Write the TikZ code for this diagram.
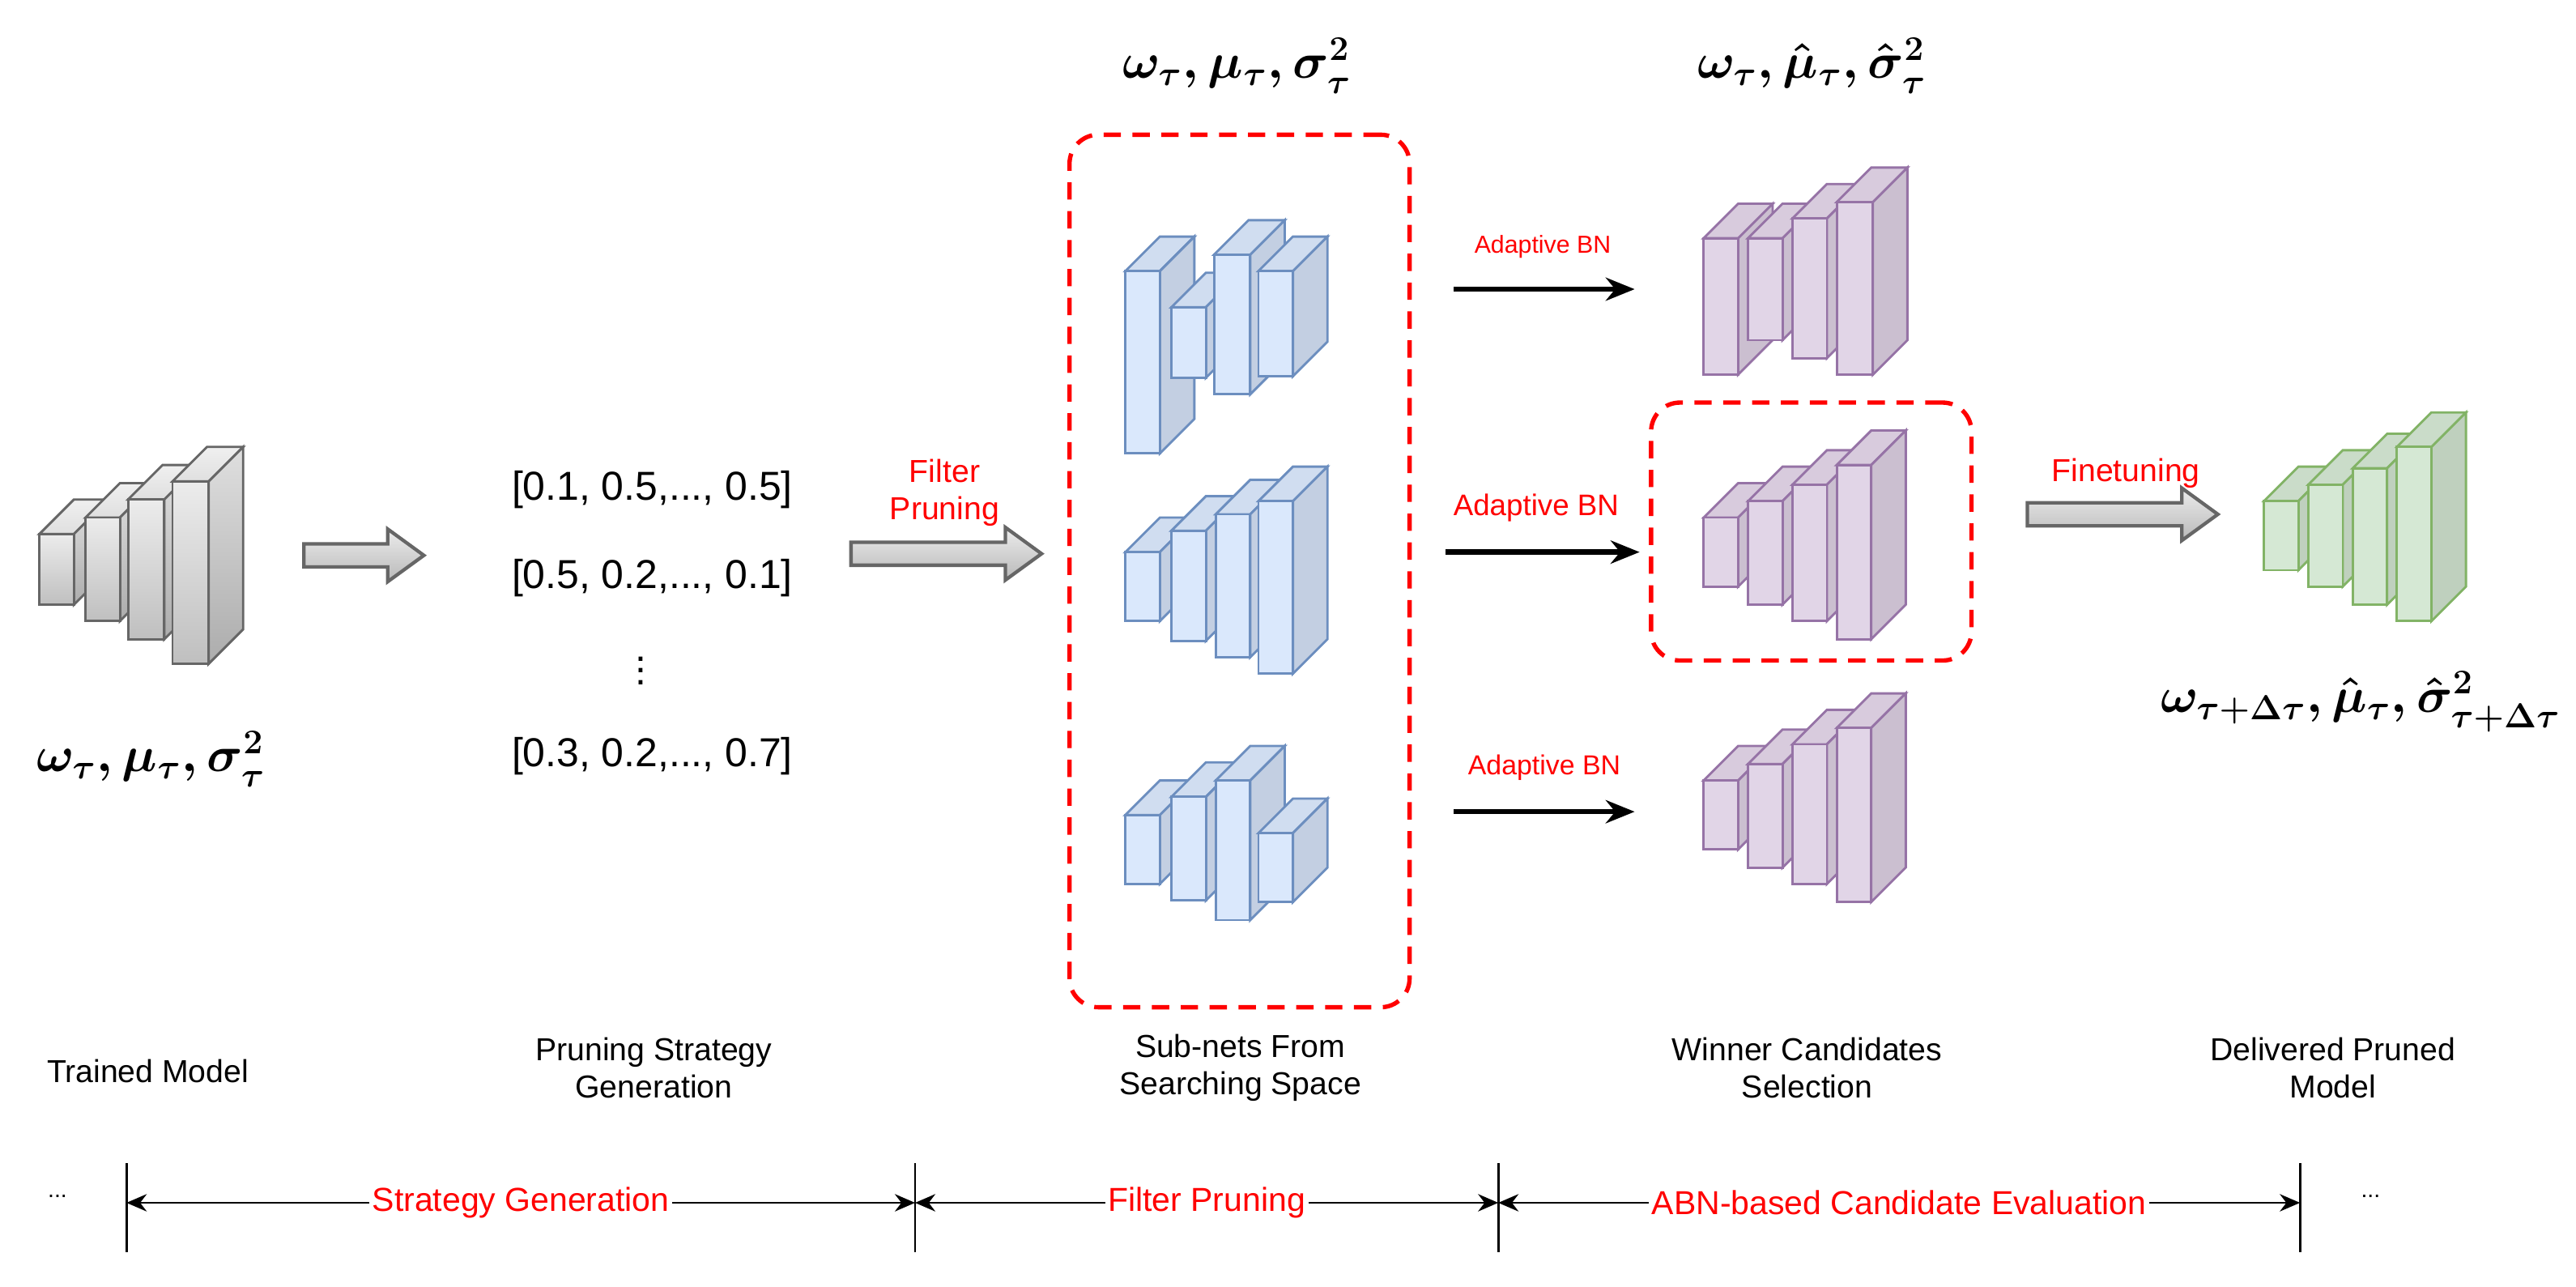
\documentclass[tikz,border=0pt]{standalone}
\usepackage{fontspec}
\setmainfont{Liberation Sans}
\usepackage{amsmath}
\usetikzlibrary{arrows.meta}
\definecolor{bfr}{HTML}{DAE8FC}\definecolor{bsd}{HTML}{C3CFE2}\definecolor{btp}{HTML}{D0DDF0}\definecolor{bst}{HTML}{6C8EBF}
\definecolor{pfr}{HTML}{E1D5E7}\definecolor{psd}{HTML}{CBBFD0}\definecolor{ptp}{HTML}{D8CBDD}\definecolor{pst}{HTML}{9673A6}
\definecolor{gfr}{HTML}{D5E8D4}\definecolor{gsd}{HTML}{BFD0BE}\definecolor{gtp}{HTML}{CADCC9}\definecolor{gst}{HTML}{82B366}
\definecolor{kst}{HTML}{666666}
\newcommand\mycub[5]{% style x y w h
 \begin{scope}[#1]
 \path[cubtop] (#2,#3)--++(21,-21)--++(#4,0)--++(-21,21)--cycle;
 \path[cubside] (#2+#4,#3)--++(21,-21)--++(0,#5)--++(-21,21)--cycle;
 \path[cubfront] (#2,#3) rectangle ++(#4,#5);
 \end{scope}}
\newcommand\blockarrow[4]{% name x0 x1 y
 \coordinate (#1) at (#2,#4);
 \draw[kst,line width=1.2pt,top color=gray!15,bottom color=gray!55] (#2,#4-7)--(#3-22,#4-7)--(#3-22,#4-16)--(#3,#4)--(#3-22,#4+16)--(#3-22,#4+7)--(#2,#4+7)--cycle;}
\tikzset{
 gray/.style={cubtop/.style={draw=kst,line width=0.8pt,top color=gray!12,bottom color=gray!25},
   cubside/.style={draw=kst,line width=0.8pt,top color=gray!25,bottom color=gray!65},
   cubfront/.style={draw=kst,line width=0.8pt,top color=gray!15,bottom color=gray!50}},
 blue/.style={cubtop/.style={draw=bst,line width=0.8pt,fill=btp},cubside/.style={draw=bst,line width=0.8pt,fill=bsd},cubfront/.style={draw=bst,line width=0.8pt,fill=bfr}},
 purp/.style={cubtop/.style={draw=pst,line width=0.8pt,fill=ptp},cubside/.style={draw=pst,line width=0.8pt,fill=psd},cubfront/.style={draw=pst,line width=0.8pt,fill=pfr}},
 green/.style={cubtop/.style={draw=gst,line width=0.8pt,fill=gtp},cubside/.style={draw=gst,line width=0.8pt,fill=gsd},cubfront/.style={draw=gst,line width=0.8pt,fill=gfr}},
 red/.style={text=red,font=\fontsize{10.3}{12}\selectfont,align=center},
 capt/.style={font=\fontsize{11}{13}\selectfont,align=center},
 vec/.style={font=\fontsize{14}{16}\selectfont},
 mth/.style={font=\fontsize{17}{19}\selectfont},
 dbox/.style={draw=red,line width=1.5pt,dash pattern=on 6pt off 4pt,rounded corners=10pt},
 barr/.style={-{Stealth[length=10pt,width=8pt]},line width=1.8pt},
 dim/.style={{Stealth[length=7pt,width=6pt]}-{Stealth[length=7pt,width=6pt]},line width=0.8pt},
 tick/.style={line width=0.8pt}
}
\begin{document}
\begin{tikzpicture}[x=0.02cm,y=-0.02cm]
\path[use as bounding box] (0,0) rectangle (1568,783);
% gray model
\mycub{gray}{24}{325}{21}{43}\mycub{gray}{52}{315}{21}{63}\mycub{gray}{78}{304}{22}{85}\mycub{gray}{105}{293}{22}{111}
\node[mth] (l1) at (92,462) {$\boldsymbol{\omega_\tau, \mu_\tau, \sigma_\tau^2}$};
\blockarrow{a1}{185}{258}{338}
\node[vec] (v1) at (397,298) {[0.1, 0.5,..., 0.5]};
\node[vec] (v2) at (397,352) {[0.5, 0.2,..., 0.1]};
\node[vec] (v3) at (390,403) {$\vdots$};
\node[vec] (v4) at (397,460) {[0.3, 0.2,..., 0.7]};
\node[red,font=\fontsize{11}{13}\selectfont] (fp) at (575,300) {Filter\\Pruning};
\blockarrow{a2}{518}{634}{337}
% blue
\node[dbox,minimum width=207*0.02cm,minimum height=531*0.02cm] (db1) at (754.5,347.5) {};
\mycub{blue}{685}{165}{21}{111}\mycub{blue}{713}{187}{21}{43}\mycub{blue}{739}{155}{22}{85}\mycub{blue}{766}{165}{21}{64}
\mycub{blue}{685}{336}{21}{42}\mycub{blue}{713}{323}{21}{67}\mycub{blue}{740}{313}{21}{87}\mycub{blue}{766}{305}{21}{105}
\mycub{blue}{685}{496}{21}{42}\mycub{blue}{713}{485}{21}{63}\mycub{blue}{740}{475}{21}{85}\mycub{blue}{766}{507}{21}{42}
\node[mth] (l2) at (753,40) {$\boldsymbol{\omega_\tau, \mu_\tau, \sigma_\tau^2}$};
% adaptive BN arrows
\coordinate (s1) at (885,176);\coordinate (e1) at (995,176);
\coordinate (s2) at (880,336);\coordinate (e2) at (998,336);
\coordinate (s3) at (885,494);\coordinate (e3) at (995,494);
\draw[barr] (s1)--(e1);\draw[barr] (s2)--(e2);\draw[barr] (s3)--(e3);
\node[red,font=\fontsize{8.5}{10}\selectfont] (ab1) at (939,150) {Adaptive BN};
\node[red] (ab2) at (935,309) {Adaptive BN};
\node[red,font=\fontsize{9.5}{11}\selectfont] (ab3) at (940,467) {Adaptive BN};
% purple
\node[dbox,minimum width=195*0.02cm,minimum height=157*0.02cm] (db2) at (1102.5,323.5) {};
\mycub{purp}{1037}{145}{21}{83}\mycub{purp}{1064}{145}{21}{62}\mycub{purp}{1091}{133}{21}{85}\mycub{purp}{1118}{123}{22}{105}
\mycub{purp}{1037}{315}{21}{42}\mycub{purp}{1064}{305}{21}{63}\mycub{purp}{1091}{295}{21}{83}\mycub{purp}{1118}{283}{21}{106}
\mycub{purp}{1037}{475}{21}{42}\mycub{purp}{1064}{465}{21}{63}\mycub{purp}{1091}{453}{21}{85}\mycub{purp}{1118}{443}{21}{106}
\node[mth] (l3) at (1103,40) {$\boldsymbol{\omega_\tau, \hat{\mu}_\tau, \hat{\sigma}_\tau^2}$};
\node[red,font=\fontsize{11}{13}\selectfont] (ft) at (1294,288) {Finetuning};
\blockarrow{a3}{1234}{1350}{313}
% green
\mycub{green}{1378}{305}{21}{42}\mycub{green}{1405}{295}{21}{62}\mycub{green}{1432}{285}{21}{83}\mycub{green}{1459}{272}{21}{106}
\node[mth] (l4) at (1437,427) {$\boldsymbol{\omega_{\tau+\Delta\tau}, \hat{\mu}_\tau, \hat{\sigma}_{\tau+\Delta\tau}^2}$};
% captions
\node[capt] (c1) at (90,652) {Trained Model};
\node[capt] (c2) at (398,650) {Pruning Strategy\\Generation};
\node[capt] (c3) at (755,650) {Sub-nets From\\Searching Space};
\node[capt] (c4) at (1100,650) {Winner Candidates\\Selection};
\node[capt] (c5) at (1420,650) {Delivered Pruned\\Model};
% timeline
\coordinate (t1) at (77,732);\coordinate (t2) at (557,732);\coordinate (t3) at (912,732);\coordinate (t4) at (1400,732);
\foreach \t in {t1,t2,t3,t4}{\draw[tick] ([yshift=0.48cm]\t)--([yshift=-0.6cm]\t);}
\draw[dim] (t1)--(t2) node[midway,red,fill=white,inner sep=1pt,font=\fontsize{11.5}{13}\selectfont] (g1) {Strategy Generation};
\draw[dim] (t2)--(t3) node[midway,red,fill=white,inner sep=1pt,font=\fontsize{11.5}{13}\selectfont] (g2) {Filter Pruning};
\draw[dim] (t3)--(t4) node[midway,red,fill=white,inner sep=1pt,font=\fontsize{11.5}{13}\selectfont] (g3) {ABN-based Candidate Evaluation};
\node[capt,font=\fontsize{8}{9}\selectfont] (d1) at (35,728) {...};
\node[capt,font=\fontsize{8}{9}\selectfont] (d2) at (1443,728) {...};
\end{tikzpicture}
\end{document}
